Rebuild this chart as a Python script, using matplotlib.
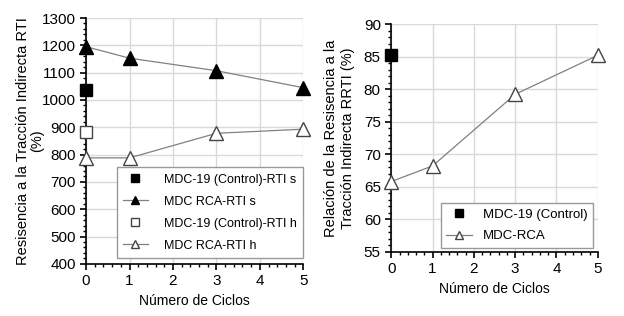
import matplotlib
matplotlib.use("Agg")
import matplotlib.pyplot as plt
from matplotlib.ticker import MultipleLocator

plt.rcParams['font.family'] = ['Liberation Sans', 'DejaVu Sans']

ciclos = [0, 1, 3, 5]
rti_s_rca = [1195, 1153, 1107, 1045]
rti_h_rca = [788, 788, 878, 893]
rti_s_ctrl = 1038
rti_h_ctrl = 883

rrti_rca = [65.8, 68.2, 79.2, 85.2]
rrti_ctrl = 85.2

fig = plt.figure(figsize=(6.24, 3.16), dpi=100)
ax1 = fig.add_axes([0.138, 0.165, 0.348, 0.778])
ax2 = fig.add_axes([0.627, 0.203, 0.331, 0.721])

grid_c = '#d9d9d9'
line_c = '#808080'
edge_c = '#444444'


def style(ax):
    ax.grid(True, color=grid_c, linewidth=1)
    ax.set_axisbelow(True)
    for s in ['top', 'right']:
        ax.spines[s].set_visible(False)
    for s in ['left', 'bottom']:
        ax.spines[s].set_linewidth(1.2)
    ax.xaxis.set_major_locator(MultipleLocator(1))
    ax.xaxis.set_minor_locator(MultipleLocator(0.2))
    ax.tick_params(which='major', direction='out', length=4, width=1.2, labelsize=11)
    ax.tick_params(which='minor', direction='out', length=2.5, width=1)
    ax.set_xlim(0, 5)
    ax.set_xlabel('Número de Ciclos', fontsize=10)


# left panel
ax1.plot([0], [rti_s_ctrl], 's', color='black', markersize=9, clip_on=False,
         label='MDC-19 (Control)-RTI s', zorder=5)
ax1.plot(ciclos, rti_s_rca, '-^', color=line_c, lw=0.9, markerfacecolor='black',
         markeredgecolor='black', markersize=10, clip_on=False, label='MDC RCA-RTI s', zorder=5)
ax1.plot([0], [rti_h_ctrl], 's', markerfacecolor='white', markeredgecolor=edge_c,
         markersize=9, clip_on=False, label='MDC-19 (Control)-RTI h', zorder=5)
ax1.plot(ciclos, rti_h_rca, '-^', color=line_c, lw=0.9, markerfacecolor='white',
         markeredgecolor=edge_c, markersize=10, clip_on=False, label='MDC RCA-RTI h', zorder=5)
style(ax1)
ax1.set_ylim(400, 1300)
ax1.yaxis.set_major_locator(MultipleLocator(100))
ax1.yaxis.set_minor_locator(MultipleLocator(20))
ax1.set_ylabel('Resisencia a la Tracción Indirecta RTI\n(%)', fontsize=10.5, linespacing=1.0,
               labelpad=-2)
leg1 = ax1.legend(loc='lower right', bbox_to_anchor=(1.0, 0.024), borderaxespad=0, fontsize=9,
                  frameon=True, fancybox=False, edgecolor='#999999', framealpha=1,
                  markerscale=0.6, handlelength=2.0, handletextpad=1.3, labelspacing=0.8,
                  borderpad=0.5)
leg1.get_frame().set_linewidth(1)

# right panel
ax2.plot([0], [rrti_ctrl], 's', color='black', markersize=9, clip_on=False,
         label='MDC-19 (Control)', zorder=5)
ax2.plot(ciclos, rrti_rca, '-^', color=line_c, lw=0.9, markerfacecolor='white',
         markeredgecolor=edge_c, markersize=10, clip_on=False, label='MDC-RCA', zorder=5)
style(ax2)
ax2.set_ylim(55, 90)
ax2.yaxis.set_major_locator(MultipleLocator(5))
ax2.yaxis.set_minor_locator(MultipleLocator(1))
ax2.set_ylabel('Relación de la Resisencia a la\nTracción Indirecta RRTI (%)', fontsize=10.5,
               linespacing=1.3, labelpad=6)
leg2 = ax2.legend(loc='lower right', bbox_to_anchor=(0.976, 0.018), borderaxespad=0,
                  fontsize=9.5, frameon=True, fancybox=False, edgecolor='#999999',
                  framealpha=1, markerscale=0.6, handlelength=2.0, handletextpad=0.8,
                  labelspacing=0.7, borderpad=0.4)
leg2.get_frame().set_linewidth(1)

fig.savefig('out.png', dpi=100)
